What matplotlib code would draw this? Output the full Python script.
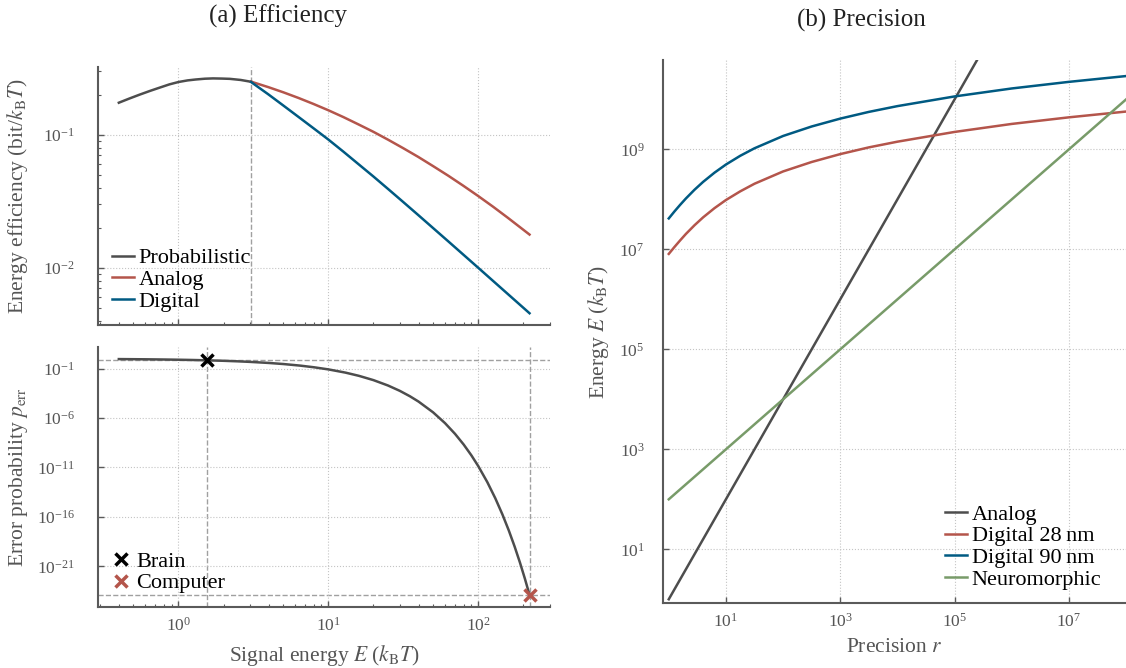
import numpy as np
import matplotlib
matplotlib.use("Agg")
import matplotlib.pyplot as plt
from matplotlib.ticker import FixedLocator, NullLocator

plt.rcParams["font.family"] = ["Liberation Serif", "DejaVu Serif"]
plt.rcParams["mathtext.fontset"] = "stix"

# ---- (a) efficiency ----
prob_E = [0.4, 0.47, 0.55, 0.65, 0.75, 0.87, 1.0, 1.15, 1.3, 1.5, 1.7,
          1.95, 2.2, 2.6, 3.05]
prob_eff = [0.174, 0.187, 0.200, 0.214, 0.226, 0.239, 0.249, 0.256, 0.260,
            0.2636, 0.265, 0.2642, 0.263, 0.258, 0.250]

analog_E = [3.05, 3.98, 5.01, 6.31, 7.94, 10, 12.6, 15.8, 20, 25.1, 31.6,
            39.8, 50.1, 63.1, 79.4, 100, 126, 158, 220]
analog_eff = [0.2506, 0.2278, 0.2083, 0.1891, 0.1705, 0.1527, 0.1357,
              0.1199, 0.1051, 0.0916, 0.0792, 0.0681, 0.0580, 0.0492,
              0.0414, 0.0346, 0.0287, 0.0237, 0.01776]

digital_E = [3.05, 3.98, 5.01, 6.31, 7.94, 10, 12.6, 15.8, 20, 25.1, 31.6,
             39.8, 63.1, 100, 220]
digital_eff = [0.249, 0.201, 0.1657, 0.1363, 0.1121, 0.092, 0.0746, 0.0604,
               0.0485, 0.0390, 0.0312, 0.0249, 0.0158, 0.0100, 0.00455]

perr_E = [0.4, 0.6, 0.8, 1, 1.25, 1.54, 2, 2.5, 3, 4, 5, 6.5, 8, 10, 13, 16,
          20, 25, 30, 35, 40, 50, 60, 70, 80, 90, 100, 115, 130, 145, 160,
          175, 190, 205, 220]
perr = [0.905, 0.861, 0.819, 0.779, 0.732, 0.680, 0.607, 0.535, 0.472,
        0.368, 0.287, 0.197, 0.135, 0.0821, 0.0388, 0.0183, 6.74e-3,
        1.93e-3, 5.53e-4, 1.58e-4, 4.54e-5, 3.73e-6, 3.06e-7, 2.51e-8,
        2.06e-9, 1.69e-10, 1.39e-11, 3.28e-13, 7.68e-15, 1.80e-16,
        4.25e-18, 9.96e-20, 2.34e-21, 5.5e-23, 1.29e-24]

brain = (1.54, 0.68)
computer = (220, 1.29e-24)
threshold_E = 3.05

# ---- (b) precision ----
r_vals = [1, 1.259, 1.585, 1.995, 2.818, 3.981, 6.31, 10, 17.78, 31.6, 100,
          316, 1e3, 3162, 1e4, 1e5, 1e6, 1e7, 1e8]
dig90 = [4.17e7, 5.76e7, 7.82e7, 1.045e8, 1.56e8, 2.24e8, 3.43e8, 4.99e8,
         7.46e8, 1.055e9, 1.86e9, 2.88e9, 4.14e9, 5.64e9, 7.36e9, 1.15e10,
         1.66e10, 2.25e10, 2.94e10]
dig28 = [8.13e6, 1.12e7, 1.52e7, 2.04e7, 3.04e7, 4.37e7, 6.69e7, 9.73e7,
         1.45e8, 2.06e8, 3.63e8, 5.61e8, 8.07e8, 1.10e9, 1.43e9, 2.24e9,
         3.24e9, 4.39e9, 5.73e9]
analog_r = [1, 1e8]
analog_energy = [1, 1e16]
neuro_r = [1, 1e8]
neuro_energy = [1e2, 1e10]

GRAY = "#4d4d4d"
RED = "#b4554b"
BLUE = "#005a82"
GREEN = "#789b69"
SPINE = "#5a5a5a"
TXT = "#555555"

LAB = 15.5
LEG = 16
TICK = 12.5

fig = plt.figure(figsize=(11.26, 6.68), dpi=100)
ax_bot = fig.add_axes([0.0873, 0.0918, 0.4012, 0.3883])
ax_top = fig.add_axes([0.0873, 0.5135, 0.4012, 0.3867], sharex=ax_bot)
ax_r = fig.add_axes([0.5885, 0.0969, 0.4115, 0.8133])


def style(ax, ypad):
    for s in ["top", "right"]:
        ax.spines[s].set_visible(False)
    for s in ["left", "bottom"]:
        ax.spines[s].set_color(SPINE)
        ax.spines[s].set_linewidth(1.5)
    ax.tick_params(which="both", direction="in", color=SPINE, labelcolor=TXT,
                   labelsize=TICK)
    ax.tick_params(which="major", length=4, width=1)
    ax.tick_params(which="minor", length=2.5, width=0.8)
    ax.tick_params(axis="y", pad=ypad)
    ax.tick_params(axis="x", pad=7)
    ax.grid(True, which="major", ls=":", color="#c4c4c4", lw=0.8)
    ax.set_axisbelow(True)


lw = 1.8

# top left
ax_top.set_xscale("log")
ax_top.set_yscale("log")
ax_top.plot(prob_E, prob_eff, color=GRAY, lw=lw, label="Probabilistic")
ax_top.plot(analog_E, analog_eff, color=RED, lw=lw, label="Analog")
ax_top.plot(digital_E, digital_eff, color=BLUE, lw=lw, label="Digital")
ax_top.axvline(threshold_E, color="#a0a0a0", ls="--", lw=1, zorder=0.5)
style(ax_top, 17)
ax_top.tick_params(axis="x", labelbottom=False)
ax_top.set_ylabel(r"Energy efficiency (bit/$k_\mathrm{B}T$)", fontsize=LAB, color=TXT)
ax_top.yaxis.set_label_coords(-0.151, 0.5)
ax_top.legend(loc="lower left", frameon=False, fontsize=LEG, handlelength=1.0,
              handletextpad=0.2, labelspacing=0.05, borderaxespad=0.2)

# bottom left
ax_bot.set_xscale("log")
ax_bot.set_yscale("log")
ax_bot.plot(perr_E, perr, color=GRAY, lw=lw)
for e, p in [brain, computer]:
    ax_bot.axvline(e, color="#a0a0a0", ls="--", lw=1, zorder=0.5)
    ax_bot.axhline(p, color="#a0a0a0", ls="--", lw=1, zorder=0.5)
ax_bot.plot(*brain, ls="none", marker="x", ms=9, mew=2.5, color="black", label="Brain")
ax_bot.plot(*computer, ls="none", marker="x", ms=9, mew=2.5, color=RED, label="Computer")
style(ax_bot, 17)
ax_bot.yaxis.set_major_locator(FixedLocator([1e-21, 1e-16, 1e-11, 1e-6, 1e-1]))
ax_bot.yaxis.set_minor_locator(NullLocator())
ax_bot.set_xlabel(r"Signal energy $E$ ($k_\mathrm{B}T$)", fontsize=LAB, color=TXT)
ax_bot.xaxis.set_label_coords(0.5, -0.14)
ax_bot.set_ylabel(r"Error probability $p_\mathrm{err}$", fontsize=LAB, color=TXT)
ax_bot.yaxis.set_label_coords(-0.151, 0.5)
ax_bot.legend(loc="lower left", frameon=False, fontsize=LEG, handlelength=0.8,
              handletextpad=0.3, labelspacing=0.05, borderaxespad=0.2)

# right
ax_r.set_xscale("log")
ax_r.set_yscale("log")
ax_r.plot(analog_r, analog_energy, color=GRAY, lw=lw, label="Analog")
ax_r.plot(r_vals, dig28, color=RED, lw=lw, label="Digital 28\u2009nm")
ax_r.plot(r_vals, dig90, color=BLUE, lw=lw, label="Digital 90\u2009nm")
ax_r.plot(neuro_r, neuro_energy, color=GREEN, lw=lw, label="Neuromorphic")
ax_r.set_xlim(10 ** -0.107, 1e8)
ax_r.set_ylim(10 ** -0.08, 10 ** 10.79)
style(ax_r, 13)
ax_r.xaxis.set_major_locator(FixedLocator([1e1, 1e3, 1e5, 1e7]))
ax_r.yaxis.set_major_locator(FixedLocator([1e1, 1e3, 1e5, 1e7, 1e9]))
ax_r.xaxis.set_minor_locator(NullLocator())
ax_r.yaxis.set_minor_locator(NullLocator())
ax_r.set_xlabel(r"Precision $r$", fontsize=LAB, color=TXT)
ax_r.xaxis.set_label_coords(0.5, -0.064)
ax_r.set_ylabel(r"Energy $E$ ($k_\mathrm{B}T$)", fontsize=LAB, color=TXT)
ax_r.yaxis.set_label_coords(-0.112, 0.5)
ax_r.legend(loc="lower right", frameon=False, fontsize=LEG, handlelength=1.0,
            handletextpad=0.2, labelspacing=0.05, bbox_to_anchor=(0.99, -0.012))

fig.text(278 / 1126, 1 - 16 / 668, "(a) Efficiency", ha="center", va="center",
         fontsize=18, color="#222222")
fig.text(861 / 1126, 1 - 20 / 668, "(b) Precision", ha="center", va="center",
         fontsize=18, color="#222222")

fig.savefig("out.png", dpi=100)
